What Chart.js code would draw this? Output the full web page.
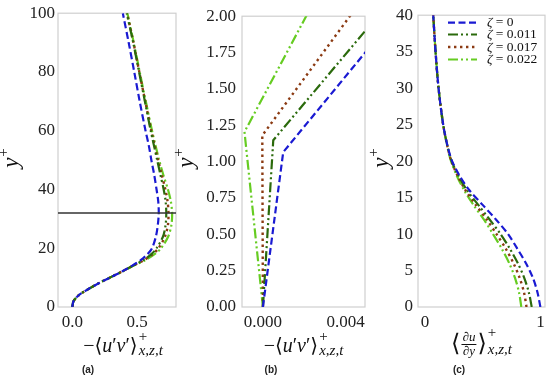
<!DOCTYPE html>
<html><head><meta charset="utf-8">
<script src="https://cdn.jsdelivr.net/npm/chart.js@4/dist/chart.umd.min.js"></script>
<style>
html,body{margin:0;padding:0;background:#fff}
body{width:550px;height:383px;overflow:hidden;position:relative}
canvas{position:absolute;top:0;left:0}
</style></head><body>
<canvas id="ca" width="550" height="383"></canvas>
<canvas id="cb" width="550" height="383"></canvas>
<canvas id="cc" width="550" height="383"></canvas>
<script>
// ---------- data ----------
const seriesNames = ['ζ = 0', 'ζ = 0.011', 'ζ = 0.017', 'ζ = 0.022'];
const zetaText = ['0', '0.011', '0.017', '0.022'];

// panel (a): -<u'v'>+ versus y+
const aY = [0,2,4,6,8,10,12,14,16,18,20,24,28,32,36,40,45,50,55,60,70,80,90,100];
const aZeta0   = [0,0.01,0.05,0.12,0.2,0.29,0.38,0.46,0.53,0.58,0.615,0.645,0.66,0.667,0.663,0.65,0.632,0.61,0.59,0.565,0.52,0.478,0.435,0.39];
const aZeta011 = [0,0.01,0.05,0.12,0.2,0.29,0.38,0.465,0.55,0.61,0.65,0.7,0.72,0.725,0.72,0.705,0.68,0.655,0.63,0.605,0.56,0.515,0.47,0.42];
const aZeta017 = [0,0.01,0.05,0.12,0.2,0.29,0.38,0.465,0.555,0.62,0.665,0.715,0.738,0.742,0.735,0.718,0.69,0.662,0.635,0.61,0.563,0.517,0.472,0.423];
const aZeta022 = [0,0.01,0.05,0.12,0.2,0.29,0.385,0.47,0.565,0.635,0.685,0.74,0.765,0.77,0.76,0.738,0.702,0.67,0.642,0.615,0.567,0.52,0.474,0.425];
const aMarkerY = 32;
const aXTicks = [0, 0.5];

// panel (b): near-wall zoom
const bY0   = [0, 1.065, 2.25];  const bZeta0   = [0, 0.00098, 0.00783];
const bY011 = [0, 1.147, 2.4];   const bZeta011 = [0, 0.0005, 0.0079];
const bY017 = [0, 1.18, 2.45];   const bZeta017 = [0, -0.00003, 0.00652];
const bY022 = [0, 1.204, 2.5];   const bZeta022 = [0, -0.00089, 0.00396];
const bXTicks = [0, 0.004];

// panel (c): <du/dy>+ versus y+
const cY = [0,2,4,6,8,10,12,14,16,18,20,22,25,30,35,40];
const cZeta0   = [1.0,0.975,0.935,0.875,0.8,0.72,0.615,0.5,0.385,0.3,0.235,0.197,0.158,0.118,0.092,0.072];
const cZeta011 = [0.925,0.9,0.86,0.805,0.735,0.655,0.56,0.462,0.365,0.29,0.232,0.196,0.158,0.118,0.092,0.072];
const cZeta017 = [0.88,0.858,0.82,0.767,0.7,0.62,0.535,0.44,0.352,0.283,0.229,0.195,0.158,0.118,0.092,0.072];
const cZeta022 = [0.835,0.815,0.78,0.73,0.665,0.59,0.51,0.42,0.34,0.276,0.226,0.194,0.158,0.118,0.092,0.072];
const cXTicks = [0, 1];

// ---------- styles ----------
const SERIF = "'Liberation Serif','DejaVu Serif',serif";
const lineStyles = [
  {color:'#1a1ad2', dash:[7,3.5], width:2.2, cap:'butt'},
  {color:'#2b6a0c', dash:[10,3,2,3,2,3], width:2.2, cap:'butt'},
  {color:'#8b3a12', dash:[2.4,3.6], width:2.4, cap:'butt'},
  {color:'#66cc22', dash:[10,3,2,3,2,3], width:2.2, cap:'butt'}
];

function pts(xs, ys){ return xs.map((x,i)=>({x:x, y:ys[i]})); }
function mkSets(pairs, tension){
  return pairs.map((p,i)=>({
    label: seriesNames[i], data: pts(p[0], p[1]), showLine:true,
    borderColor: lineStyles[i].color, borderDash: lineStyles[i].dash,
    borderWidth: lineStyles[i].width, borderCapStyle: lineStyles[i].cap,
    pointRadius:0, tension: tension, fill:false
  }));
}

// ---------- rich text helpers ----------
function partWidth(ctx, p){
  if (p.stack){ let w=0; p.stack.forEach(s=>{ctx.font=s.font; w=Math.max(w, ctx.measureText(s.t).width);}); return w + (p.kern||0); }
  if (p.frac){ ctx.font=p.font; return Math.max(ctx.measureText(p.frac[0]).width, ctx.measureText(p.frac[1]).width) + 4 + (p.kern||0); }
  ctx.font=p.font; return ctx.measureText(p.t).width + (p.kern||0);
}
function drawRich(ctx, parts, cx, by){
  let total = parts.reduce((a,p)=>a+partWidth(ctx,p),0);
  let x = cx - total/2;
  ctx.textBaseline='alphabetic'; ctx.textAlign='left'; ctx.fillStyle='#111';
  parts.forEach(p=>{
    const w = partWidth(ctx,p);
    if (p.stack){ p.stack.forEach(s=>{ctx.font=s.font; ctx.fillText(s.t, x, by + s.dy);}); }
    else if (p.frac){
      ctx.font=p.font;
      const wn=ctx.measureText(p.frac[0]).width, wd=ctx.measureText(p.frac[1]).width;
      const inner = w - (p.kern||0);
      ctx.fillText(p.frac[0], x + (inner-wn)/2, by + p.numDy);
      ctx.fillText(p.frac[1], x + (inner-wd)/2, by + p.denDy);
      ctx.fillRect(x+1, by + p.barDy, inner-2, 1);
    } else { ctx.font=p.font; ctx.fillText(p.t, x, by + (p.dy||0)); }
    x += w;
  });
}
const uvTitle = [
  {t:'−⟨', font:'20px '+SERIF},
  {t:'u', font:'italic 20px '+SERIF},
  {t:'′', font:'20px '+SERIF},
  {t:'v', font:'italic 20px '+SERIF},
  {t:'′⟩', font:'20px '+SERIF, kern:1},
  {stack:[{t:'+', font:'15px '+SERIF, dy:-11},{t:'x,z,t', font:'italic 15px '+SERIF, dy:3}]}
];
const dudyTitle = [
  {t:'⟨', font:'24px '+SERIF},
  {frac:['∂u','∂y'], font:'italic 13px '+SERIF, numDy:-10, denDy:4, barDy:-7},
  {t:'⟩', font:'24px '+SERIF, kern:1},
  {stack:[{t:'+', font:'15px '+SERIF, dy:-14},{t:'x,z,t', font:'italic 15px '+SERIF, dy:3}]}
];
const yTitle = [
  {t:'y', font:'italic 23px '+SERIF, kern:1},
  {t:'+', font:'15px '+SERIF, dy:-10}
];

const deco = {
  id:'deco',
  beforeDatasetsDraw(chart, args, o){
    const {ctx, chartArea:a} = chart;
    ctx.save();
    ctx.strokeStyle='#cfcfcf'; ctx.lineWidth=1.2;
    ctx.strokeRect(a.left, a.top, a.right-a.left, a.bottom-a.top);
    ctx.restore();
  },
  afterDatasetsDraw(chart, args, o){
    const {ctx, chartArea:a} = chart;
    if (o.marker !== undefined){
      const y = chart.scales.y.getPixelForValue(o.marker);
      ctx.save(); ctx.strokeStyle='#333'; ctx.lineWidth=1.6;
      ctx.beginPath(); ctx.moveTo(a.left, y); ctx.lineTo(a.right, y); ctx.stroke(); ctx.restore();
    }
  },
  afterDraw(chart, args, o){
    const {ctx, chartArea:a} = chart;
    ctx.save();
    drawRich(ctx, o.xTitle, (a.left+a.right)/2 + (o.xTitleShift||0), o.xTitleBase);
    ctx.save(); ctx.translate(o.yTitleX, 158); ctx.rotate(-Math.PI/2);
    drawRich(ctx, yTitle, 0, 0); ctx.restore();
    ctx.font='bold 10px "Liberation Sans","DejaVu Sans",sans-serif';
    ctx.textAlign='center'; ctx.textBaseline='middle'; ctx.fillStyle='#222';
    ctx.fillText(o.sub, o.subX, 370);
    if (o.legend){
      const rows=[22.7,34.5,47,59.5];
      rows.forEach((ry,i)=>{
        const s=lineStyles[i];
        ctx.save(); ctx.strokeStyle=s.color; ctx.lineWidth=s.width; ctx.setLineDash(s.dash); ctx.lineCap=s.cap;
        ctx.beginPath(); ctx.moveTo(448, ry); ctx.lineTo(477, ry); ctx.stroke(); ctx.restore();
        ctx.textBaseline='middle'; ctx.textAlign='left'; ctx.fillStyle='#111';
        ctx.font='italic 13.5px '+SERIF; ctx.fillText('ζ', 487, ry);
        const wz=ctx.measureText('ζ').width;
        ctx.font='13.5px '+SERIF; ctx.fillText(' = '+zetaText[i], 487+wz, ry);
      });
    }
    ctx.restore();
  }
};

function makeChart(id, datasets, cfg){
  return new Chart(document.getElementById(id), {
    type:'scatter',
    data:{datasets},
    options:{
      responsive:false, animation:false, events:[],
      layout:{padding:{left:cfg.padLeft, right:cfg.padRight, top:13, bottom:0}},
      plugins:{legend:{display:false}, tooltip:{enabled:false}, deco:cfg.deco},
      scales:{
        x:{type:'linear', min:cfg.xmin, max:cfg.xmax,
           afterBuildTicks:(s)=>{ s.ticks = cfg.xticks.map(v=>({value:v})); },
           afterFit:(s)=>{ s.height = 76; },
           grid:{display:false, drawTicks:false}, border:{display:false},
           ticks:{padding:5, color:'#222', font:{family:SERIF, size:17}, autoSkip:false, maxRotation:0,
                  callback:(v)=>Number(v).toFixed(cfg.xdec)}},
        y:{type:'linear', min:cfg.ymin, max:cfg.ymax,
           afterFit:(s)=>{ s.width = cfg.yw; },
           grid:{display:false, drawTicks:false}, border:{display:false},
           ticks:{padding:cfg.ypad, stepSize:cfg.ystep, color:'#222', font:{family:SERIF, size:17}, autoSkip:false,
                  callback:(v)=>Number(v).toFixed(cfg.ydec)}}
      }
    },
    plugins:[deco]
  });
}

makeChart('ca', mkSets([[aZeta0,aY],[aZeta011,aY],[aZeta017,aY],[aZeta022,aY]], 0.3), {
  padLeft:0, padRight:374, xmin:-0.11, xmax:0.8, xticks:aXTicks, xdec:1, ymin:0, ymax:100, ystep:20, ydec:0, yw:58, ypad:3,
  deco:{xTitle:uvTitle, xTitleBase:352, xTitleShift:6, yTitleX:18, sub:'(a)', subX:88, marker:aMarkerY}
});
makeChart('cb', mkSets([[bZeta0,bY0],[bZeta011,bY011],[bZeta017,bY017],[bZeta022,bY022]], 0), {
  padLeft:182, padRight:185, xmin:-0.00101, xmax:0.00493, xticks:bXTicks, xdec:3, ymin:0, ymax:2, ystep:0.25, ydec:2, yw:60, ypad:6,
  deco:{xTitle:uvTitle, xTitleBase:352, xTitleShift:0, yTitleX:193, sub:'(b)', subX:271}
});
makeChart('cc', mkSets([[cZeta0,cY],[cZeta011,cY],[cZeta017,cY],[cZeta022,cY]], 0.3), {
  padLeft:368, padRight:5, xmin:-0.06, xmax:1.04, xticks:cXTicks, xdec:0, ymin:0, ymax:40, ystep:5, ydec:0, yw:50, ypad:5,
  deco:{xTitle:dudyTitle, xTitleBase:351, xTitleShift:0, yTitleX:388, sub:'(c)', subX:459, legend:true}
});
</script>
</body></html>
